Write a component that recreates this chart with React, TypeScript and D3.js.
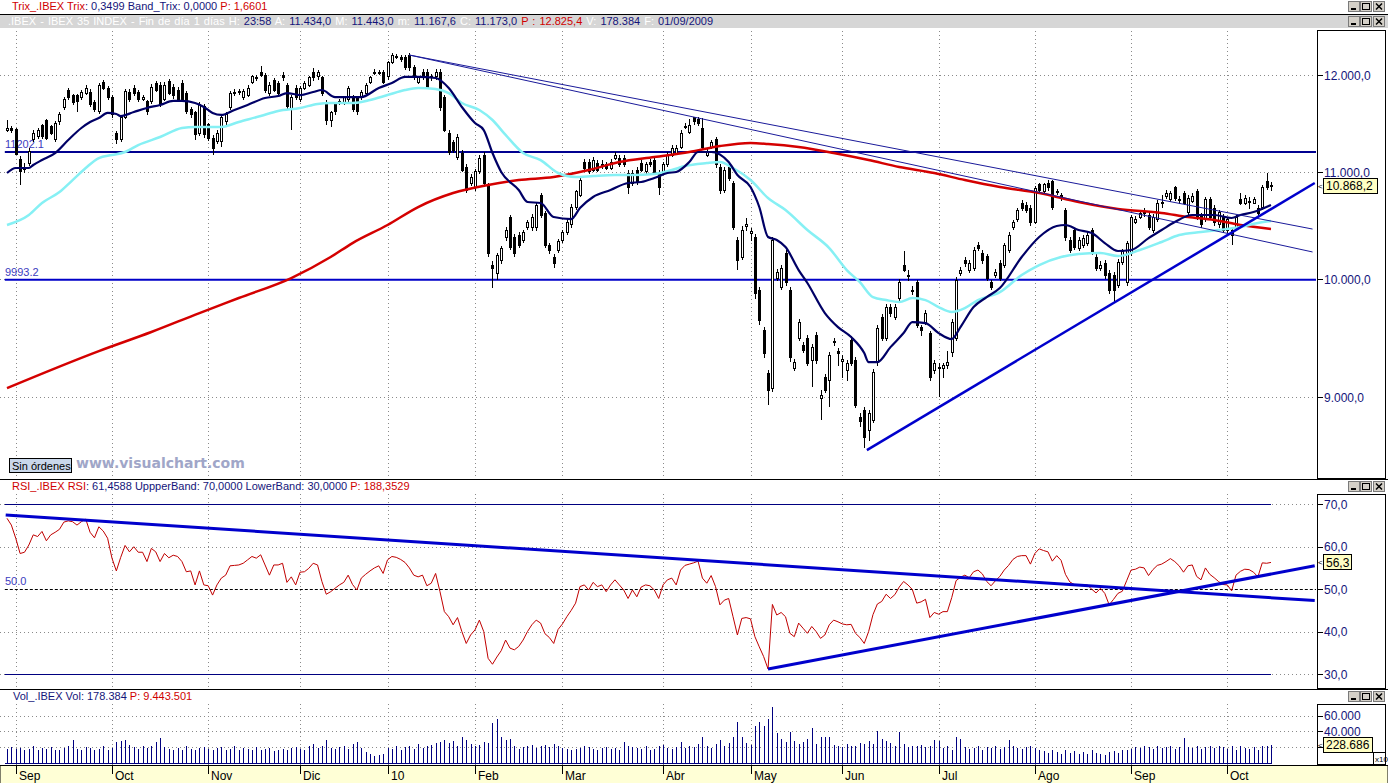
import * as d3 from 'd3';

// IBEX 35 daily bars, 28 Aug 2009 .. 14 Oct 2010
const opens = [
  11420, 11440, 11434, 11132, 11030, 11092, 11323, 11354, 11466, 11517,
  11456, 11323, 11507, 11652, 11840, 11777, 11777, 11766, 11808, 11819,
  11704, 11610, 11925, 11861, 11766, 11384, 11323, 11558, 11819, 11861,
  11819, 11745, 11714, 11714, 11914, 11893, 11745, 11935, 11872, 11840,
  11914, 11808, 11631, 11600, 11394, 11662, 11476, 11343, 11303, 11303,
  11507, 11652, 11800, 11815, 11766, 11787, 11925, 11970, 12032, 12000,
  11808, 11946, 11914, 12000, 11893, 11631, 11861, 11735, 11861, 11893,
  12032, 11979, 11968, 11700, 11527, 11683, 11710, 11704, 11735, 11766,
  11756, 11756, 11808, 11925, 12022, 12030, 12022, 11979, 12140, 12190,
  12190, 12194, 12216, 12086, 11925, 12032, 12032, 11970, 11979, 12032,
  11766, 11394, 11293, 11152, 11192, 11053, 10896, 10848, 11004, 11172,
  10877, 10126, 10054, 10171, 10382, 10561, 10382, 10401, 10355, 10476,
  10467, 10467, 10780, 10608, 10309, 10199, 10263, 10355, 10429, 10495,
  10665, 10780, 11102, 11102, 11023, 11092, 11080, 11073, 11043, 11142,
  11142, 11142, 10993, 10896, 11023, 11092, 11004, 11102, 11122, 10993,
  10993, 11073, 11172, 11192, 11252, 11450, 11404, 11548, 11537, 11445,
  11172, 11252, 11323, 11053, 10828, 11053, 10896, 10355, 10199, 10480,
  10420, 10383, 9902, 9555, 9194, 9072, 10008, 9929, 10235, 9902,
  9235, 9487, 9427, 9487, 9302, 9512, 8990, 9161, 9137, 9450,
  9370, 9290, 9219, 9470, 9302, 8840, 8895, 8738, 8816, 9285,
  9666, 9487, 9753, 9666, 9832, 10126, 10030, 9902, 9965, 9580,
  9623, 9529, 9219, 9240, 9235, 9260, 9369, 9487, 10054, 10171,
  10081, 10099, 10309, 10235, 10200, 9965, 10036, 10144, 10126, 10263,
  10476, 10542, 10703, 10684, 10655, 10523, 10877, 10809, 10896, 10906,
  10800, 10780, 10636, 10355, 10448, 10281, 10309, 10327, 10448, 10199,
  10099, 10144, 10054, 10036, 9947, 10153, 9973, 10235, 10523, 10570,
  10600, 10589, 10448, 10542, 10700, 10770, 10732, 10848, 10740, 10799,
  10617, 10722, 10818, 10589, 10542, 10732, 10655, 10495, 10570, 10448,
  10448, 10476, 10732, 10703, 10710, 10703, 10655, 10665, 10906, 10870,
];

const highs = [
  11527, 11470, 11443, 11160, 11090, 11240, 11420, 11450, 11490, 11540,
  11480, 11520, 11610, 11770, 11860, 11800, 11800, 11840, 11890, 11850,
  11730, 11910, 11950, 11880, 11790, 11410, 11580, 11850, 11850, 11890,
  11840, 11790, 11740, 11900, 11940, 11920, 11920, 11960, 11900, 11870,
  11950, 11830, 11660, 11620, 11710, 11690, 11500, 11370, 11420, 11570,
  11610, 11830, 11850, 11850, 11850, 11890, 12000, 12000, 12100, 12020,
  11920, 11970, 11940, 12030, 11910, 11790, 11890, 11880, 11940, 11990,
  12070, 12050, 11990, 11730, 11620, 11700, 11750, 11780, 11880, 11790,
  11780, 11840, 11910, 11990, 12060, 12050, 12050, 12150, 12240, 12230,
  12220, 12220, 12240, 12110, 11990, 12060, 12060, 12010, 12060, 12060,
  11790, 11420, 11320, 11380, 11220, 11080, 10980, 11030, 11170, 11200,
  10900, 10160, 10240, 10300, 10480, 10590, 10410, 10430, 10450, 10540,
  10600, 10710, 10800, 10630, 10330, 10230, 10360, 10450, 10550, 10690,
  10830, 10950, 11130, 11130, 11150, 11120, 11120, 11100, 11130, 11200,
  11170, 11170, 11020, 11020, 11050, 11120, 11100, 11130, 11150, 11020,
  11100, 11200, 11270, 11270, 11420, 11500, 11540, 11560, 11560, 11550,
  11230, 11320, 11350, 11080, 11050, 11080, 10920, 10380, 10490, 10560,
  10470, 10410, 9930, 9580, 9220, 10380, 10090, 10130, 10260, 9930,
  9310, 9650, 9450, 9510, 9440, 9540, 9056, 9190, 9370, 9490,
  9400, 9340, 9300, 9500, 9330, 8870, 8920, 8900, 9230, 9600,
  9690, 9780, 9780, 9780, 10000, 10250, 10080, 9940, 9990, 9600,
  9730, 9550, 9300, 9280, 9280, 9380, 9650, 10020, 10110, 10200,
  10170, 10290, 10340, 10260, 10230, 9990, 10090, 10170, 10330, 10430,
  10540, 10660, 10730, 10710, 10680, 10870, 10900, 10900, 10930, 10930,
  10840, 10800, 10660, 10380, 10470, 10380, 10400, 10430, 10470, 10230,
  10160, 10170, 10080, 10060, 10180, 10270, 10350, 10590, 10580, 10640,
  10660, 10610, 10600, 10730, 10780, 10830, 10820, 10870, 10770, 10820,
  10780, 10800, 10840, 10610, 10760, 10760, 10680, 10640, 10600, 10570,
  10470, 10590, 10800, 10780, 10760, 10760, 10680, 10880, 10990, 10910,
];

const lows = [
  11404, 11390, 11167.6, 10877, 10990, 11060, 11300, 11330, 11330, 11320,
  11370, 11300, 11480, 11630, 11740, 11680, 11610, 11740, 11790, 11660,
  11610, 11590, 11840, 11730, 11550, 11280, 11300, 11540, 11710, 11780,
  11710, 11720, 11580, 11690, 11820, 11660, 11720, 11790, 11750, 11720,
  11720, 11590, 11550, 11320, 11360, 11340, 11310, 11172, 11280, 11250,
  11480, 11630, 11780, 11790, 11740, 11770, 11900, 11940, 11980, 11810,
  11780, 11820, 11790, 11940, 11640, 11424, 11740, 11710, 11840, 11870,
  11940, 11950, 11780, 11480, 11460, 11580, 11680, 11680, 11710, 11610,
  11580, 11730, 11790, 11900, 12000, 12000, 11900, 11950, 12120, 12170,
  12140, 12050, 12040, 11950, 11900, 11950, 11850, 11940, 11950, 11620,
  11400, 11170, 11190, 11120, 11000, 10800, 10870, 10820, 10980, 10870,
  10200, 9920, 9990, 10140, 10350, 10260, 10200, 10280, 10330, 10450,
  10440, 10440, 10560, 10280, 10230, 10100, 10240, 10330, 10400, 10470,
  10640, 10760, 11020, 10980, 11000, 11000, 11030, 11020, 11020, 11120,
  11050, 11050, 10790, 10870, 10880, 11000, 10980, 11050, 10970, 10780,
  10970, 11050, 11150, 11170, 11230, 11430, 11380, 11480, 11470, 11230,
  11150, 11230, 11040, 10790, 10800, 10920, 10450, 10081, 10170, 10440,
  10350, 9820, 9600, 9320, 8935, 9040, 9980, 9900, 9940, 9290,
  9210, 9460, 9360, 9250, 9080, 9270, 8816, 9030, 8920, 9420,
  9250, 9150, 9130, 9250, 8910, 8760, 8600, 8650, 8790, 9250,
  9460, 9460, 9670, 9640, 9800, 10060, 9980, 9860, 9570, 9500,
  9600, 9130, 9190, 9000, 9150, 9230, 9330, 9460, 10030, 10110,
  10050, 10070, 10250, 10140, 9980, 9900, 10010, 9980, 10100, 10240,
  10450, 10520, 10630, 10610, 10490, 10500, 10800, 10780, 10820, 10640,
  10780, 10720, 10350, 10240, 10260, 10250, 10280, 10300, 10220, 10070,
  10070, 10000, 9870, 9790, 9920, 10130, 9940, 10210, 10500, 10550,
  10570, 10450, 10420, 10520, 10660, 10740, 10710, 10720, 10690, 10680,
  10590, 10700, 10540, 10470, 10520, 10540, 10490, 10470, 10420, 10420,
  10309, 10450, 10680, 10680, 10650, 10690, 10580, 10640, 10830, 10820,
];

const closes = [
  11440, 11420, 11173, 11004, 11050, 11212, 11394, 11424, 11354, 11343,
  11394, 11496, 11589, 11745, 11766, 11704, 11714, 11819, 11861, 11683,
  11631, 11893, 11861, 11756, 11579, 11323, 11558, 11829, 11735, 11808,
  11735, 11756, 11610, 11872, 11840, 11683, 11893, 11808, 11777, 11745,
  11745, 11610, 11579, 11374, 11683, 11374, 11343, 11242, 11394, 11548,
  11589, 11808, 11812, 11825, 11829, 11861, 11979, 11975, 12000, 11840,
  11893, 11840, 11808, 11968, 11662, 11766, 11766, 11861, 11914, 11968,
  11968, 12022, 11808, 11527, 11600, 11610, 11720, 11756, 11861, 11631,
  11610, 11819, 11893, 11968, 12032, 12022, 11925, 12130, 12216, 12195,
  12170, 12076, 12076, 11979, 11968, 11979, 11872, 11985, 12032, 11652,
  11424, 11202, 11222, 11353, 11023, 10828, 10954, 11004, 11142, 10896,
  10235, 10099, 10217, 10281, 10448, 10290, 10235, 10309, 10429, 10514,
  10570, 10684, 10589, 10309, 10263, 10144, 10337, 10429, 10523, 10665,
  10809, 10925, 11043, 11004, 11122, 11023, 11060, 11043, 11102, 11172,
  11073, 11073, 10857, 10993, 10906, 11023, 11073, 11073, 10993, 10857,
  11073, 11172, 11242, 11242, 11394, 11460, 11466, 11507, 11496, 11252,
  11202, 11293, 11073, 10828, 11023, 10945, 10476, 10171, 10448, 10495,
  10430, 9875, 9640, 9360, 9056, 10355, 10063, 10099, 9973, 9327,
  9285, 9623, 9385, 9277, 9410, 9302, 9015, 9056, 9344, 9460,
  9360, 9310, 9277, 9277, 8935, 8808, 8683, 8872, 9203, 9572,
  9487, 9753, 9701, 9753, 9973, 10081, 10020, 9890, 9597, 9555,
  9701, 9161, 9277, 9235, 9260, 9285, 9623, 9991, 10081, 10144,
  10144, 10263, 10281, 10171, 10009, 9929, 10063, 10009, 10309, 10401,
  10514, 10636, 10655, 10636, 10514, 10847, 10828, 10877, 10848, 10665,
  10815, 10751, 10382, 10263, 10290, 10355, 10373, 10401, 10245, 10099,
  10126, 10036, 9902, 9902, 10153, 10245, 10327, 10561, 10551, 10608,
  10610, 10476, 10570, 10703, 10710, 10790, 10790, 10751, 10730, 10703,
  10751, 10770, 10570, 10495, 10732, 10570, 10514, 10617, 10448, 10542,
  10401, 10561, 10703, 10751, 10720, 10732, 10608, 10857, 10857, 10868.2,
];

// volume, thousands (axis shows x10)
const volumes = [
  18, 20, 17.8, 19, 16, 18, 21, 17, 19, 18, 20, 17, 16, 19, 22, 29, 18, 17, 20, 19,
  16, 18, 21, 17, 19, 27, 28, 29, 23, 20, 18, 22, 19, 21, 27, 32, 20, 18, 17, 19,
  16, 21, 18, 17, 19, 20, 18, 17, 19, 20, 16, 18, 21, 17, 19, 18, 16, 20, 17, 18,
  19, 15, 17, 18, 16, 19, 20, 18, 17, 22, 24, 19, 21, 29, 19, 18, 20, 22, 18, 24,
  27, 19, 14, 12, 9, 10, 11, 19, 18, 21, 17, 20, 22, 18, 24, 19, 21, 23, 25, 27,
  29, 26, 28, 22, 33, 29, 24, 21, 23, 27, 25, 51, 56, 33, 29, 31, 22, 18, 20, 22,
  23, 19, 22, 23, 20, 24, 21, 19, 18, 17, 18, 19, 21, 20, 18, 17, 19, 20, 18, 19,
  17, 27, 22, 20, 19, 18, 22, 17, 18, 21, 23, 19, 18, 20, 27, 19, 22, 20, 24, 33,
  21, 19, 24, 29, 22, 26, 33, 52, 33, 26, 23, 47, 52, 47, 56, 71, 38, 30, 27, 39,
  28, 24, 27, 30, 45, 24, 33, 33, 33, 23, 22, 20, 24, 21, 22, 26, 24, 28, 24, 41,
  30, 28, 25, 22, 39, 24, 20, 22, 21, 23, 20, 22, 29, 28, 19, 22, 17, 33, 30, 20,
  18, 19, 21, 17, 20, 19, 22, 18, 20, 29, 21, 19, 18, 20, 22, 19, 16, 15, 13, 17,
  14, 12, 16, 13, 15, 11, 14, 12, 16, 13, 12, 10, 14, 15, 13, 16, 17, 18, 20, 19,
  21, 20, 18, 22, 19, 20, 21, 18, 20, 32, 20, 19, 21, 18, 20, 22, 19, 21, 20, 18,
  22, 17, 21, 19, 18, 20, 17, 21, 22, 22.9,
];

const rsi = [
  66.7, 65.1, 62.0, 58.4, 58.7, 60.4, 62.8, 62.4, 63.6, 61.4,
  62.8, 63.4, 64.1, 65.8, 66.1, 65.9, 65.1, 65.9, 66.5, 63.4,
  62.1, 64.7, 63.7, 62.0, 57.3, 54.3, 57.5, 60.3, 58.8, 60.0,
  58.7, 58.7, 56.5, 59.6, 58.8, 56.5, 58.4, 57.4, 58.0, 57.7,
  56.5, 54.1, 54.3, 51.0, 54.3, 51.0, 50.8, 48.6, 51.0, 52.6,
  53.3, 55.5, 55.6, 55.7, 56.1, 56.9, 57.7, 57.3, 58.1, 55.7,
  53.3, 55.7, 55.7, 56.1, 51.6, 52.9, 51.0, 54.0, 54.1, 54.9,
  56.1, 55.7, 51.8, 48.8, 49.4, 50.2, 51.0, 51.6, 53.3, 51.1,
  49.8, 52.6, 53.5, 54.3, 55.0, 55.5, 53.7, 56.9, 57.7, 57.5,
  57.0, 56.3, 55.0, 53.3, 52.9, 53.3, 50.8, 51.4, 53.7, 49.4,
  44.7, 43.5, 41.6, 43.3, 40.0, 37.2, 39.2, 40.4, 42.7, 40.0,
  33.7, 32.3, 34.0, 35.5, 38.0, 36.1, 35.7, 36.5, 38.0, 40.0,
  41.6, 42.7, 42.0, 39.5, 38.6, 37.2, 40.5, 41.8, 43.5, 45.0,
  46.7, 50.6, 51.0, 49.8, 51.6, 50.6, 51.0, 49.4, 51.0, 52.2,
  51.0, 49.8, 47.8, 49.8, 48.2, 50.5, 51.0, 50.8, 49.8, 47.8,
  51.0, 52.2, 52.6, 51.0, 54.5, 55.6, 55.9, 56.2, 56.6, 52.6,
  51.4, 53.2, 50.6, 46.3, 47.4, 47.8, 43.5, 39.2, 43.1, 43.3,
  43.0, 38.8, 36.4, 34.1, 31.2, 46.4, 43.9, 44.5, 43.5, 39.6,
  38.8, 42.0, 40.8, 39.6, 41.2, 40.0, 38.4, 39.2, 41.6, 42.7,
  42.3, 41.8, 41.6, 41.7, 39.6, 38.6, 37.2, 40.0, 44.0, 46.5,
  47.1, 48.8, 47.8, 48.7, 50.5, 51.8, 51.0, 49.9, 46.7, 47.0,
  47.6, 43.3, 44.5, 44.1, 44.7, 44.7, 48.0, 52.0, 52.8, 53.3,
  52.7, 54.1, 54.5, 53.6, 51.8, 50.8, 52.0, 53.0, 54.5, 55.6,
  57.0, 57.7, 57.9, 57.9, 55.9, 58.4, 59.5, 59.1, 58.8, 56.6,
  57.9, 56.8, 53.5, 51.7, 51.1, 51.0, 51.1, 51.0, 50.0, 49.1,
  50.2, 49.0, 46.3, 47.6, 49.0, 49.5, 52.0, 54.5, 54.7, 55.2,
  55.0, 53.2, 54.6, 55.6, 55.9, 56.5, 57.2, 56.5, 55.5, 54.0,
  55.5, 55.7, 53.0, 52.2, 55.0, 53.5, 52.7, 51.8, 51.1, 51.0,
  49.6, 53.3, 54.2, 54.7, 54.6, 54.0, 52.9, 56.2, 56.1, 56.3,
];

// moving averages, read at the listed bar numbers
const fastBars = [0, 2, 5, 6, 8, 11, 14, 17, 19, 21, 23, 25, 26, 29, 32, 35, 38, 40, 43, 45, 47, 49, 52, 55, 59, 62, 64, 67, 70, 72, 75, 78, 81, 85, 88, 91, 94, 98, 101, 104, 107, 109, 111, 113, 117, 119, 122, 125, 129, 131, 134, 138, 142, 145, 148, 151, 153, 156, 158, 161, 165, 167, 170, 172, 174, 176, 178, 181, 183, 187, 190, 193, 196, 197, 199, 202, 205, 207, 210, 213, 216, 218, 221, 224, 227, 232, 236, 240, 242, 245, 248, 251, 254, 257, 261, 264, 267, 271, 276, 280, 282, 285, 289];
const fastMa = [10994, 11043, 11043, 11073, 11122, 11192, 11323, 11445, 11507, 11548, 11600, 11589, 11568, 11610, 11652, 11683, 11725, 11725, 11704, 11662, 11600, 11579, 11631, 11683, 11756, 11777, 11808, 11787, 11819, 11840, 11766, 11766, 11766, 11861, 11914, 11979, 11979, 11968, 11861, 11662, 11496, 11424, 11192, 11004, 10828, 10713, 10703, 10570, 10551, 10655, 10761, 10828, 10896, 10906, 10945, 10994, 11004, 11102, 11202, 11202, 11102, 10974, 10857, 10665, 10383, 10355, 10290, 10081, 9965, 9701, 9580, 9495, 9360, 9285, 9285, 9410, 9529, 9623, 9614, 9529, 9478, 9580, 9753, 9840, 9920, 10199, 10383, 10486, 10495, 10448, 10420, 10327, 10254, 10263, 10373, 10448, 10523, 10589, 10589, 10561, 10589, 10617, 10684];

const midBars = [0, 5, 8, 12, 15, 18, 21, 24, 27, 30, 35, 40, 43, 49, 53, 58, 62, 67, 71, 74, 79, 83, 87, 91, 94, 98, 101, 104, 108, 111, 114, 118, 122, 126, 130, 134, 139, 143, 148, 152, 155, 160, 163, 166, 170, 174, 178, 183, 188, 192, 195, 198, 201, 204, 207, 210, 213, 216, 219, 222, 227, 232, 236, 241, 245, 250, 254, 259, 264, 268, 273, 277, 282, 286, 289];
const midMa = [10495, 10589, 10703, 10809, 10925, 11043, 11142, 11172, 11202, 11272, 11353, 11445, 11456, 11456, 11507, 11568, 11621, 11652, 11694, 11704, 11704, 11735, 11787, 11840, 11861, 11850, 11808, 11704, 11631, 11527, 11374, 11192, 11122, 10994, 10955, 10965, 10974, 10974, 10984, 11023, 11063, 11092, 11102, 11043, 10925, 10751, 10636, 10448, 10281, 10081, 9973, 9840, 9814, 9797, 9832, 9814, 9753, 9710, 9744, 9814, 9884, 10036, 10126, 10199, 10226, 10235, 10208, 10263, 10337, 10401, 10429, 10448, 10476, 10514, 10532];

const slowBars = [0, 21, 33, 44, 53, 65, 74, 79, 87, 94, 102, 110, 117, 125, 133, 140, 148, 156, 163, 170, 174, 181, 189, 197, 204, 212, 219, 227, 236, 245, 254, 264, 270, 276, 282, 289];
const slowMa = [9072, 9377, 9538, 9701, 9832, 10009, 10199, 10327, 10495, 10665, 10799, 10877, 10925, 10955, 11023, 11102, 11152, 11202, 11262, 11293, 11283, 11252, 11192, 11122, 11053, 10994, 10925, 10857, 10799, 10713, 10646, 10608, 10570, 10542, 10495, 10458];

// drawn lines: [bar, value] end points
const levels = [11202.1, 9993.2];
const thinTrends = [
  [[92, 12216], [298.5, 10457]],
  [[92, 12216], [298.5, 10245]],
];
const supportTrend = [[196.6, 8583], [299, 10896]];
const rsiTrends = [
  [[-0.3, 67.5], [299, 47.3]],
  [[174, 31.2], [299, 55.5]],
];

const monthBars = [2, 24, 46, 67, 87, 107, 127, 150, 170, 191, 213, 235, 257, 279];
const monthLabels = ['Sep', 'Oct', 'Nov', 'Dic', '10', 'Feb', 'Mar', 'Abr', 'May', 'Jun', 'Jul', 'Ago', 'Sep', 'Oct'];

const priceTicks = [9000, 10000, 11000, 12000];
const rsiTicks = [30, 40, 50, 60, 70];
const volTicks = [20, 40, 60];
const volLabelTicks = [40, 60];

const es = d3.formatLocale({ decimal: ',', thousands: '.', grouping: [3], currency: ['', ''] });
const fmt1 = es.format(',.1f');
const fmt0 = es.format(',.0f');

const FONT = "'Liberation Sans', Arial, sans-serif";
const NAVY = '#14147a';
const RED = '#d00000';

const WinButtons = ({ y }: { y: number }) => (
  <g>
    {[1348, 1360, 1373].map((bx, k) => (
      <g key={k}>
        <rect x={bx + 0.5} y={y + 0.5} width={11} height={10} fill="#d4d0c8" stroke="#7a7a7a" />
        {k === 0 && <line x1={bx + 3} x2={bx + 8} y1={y + 8} y2={y + 8} stroke="#000" strokeWidth={2} />}
        {k === 1 && <rect x={bx + 2.5} y={y + 2.5} width={7} height={6} fill="none" stroke="#000" />}
        {k === 2 && (
          <path d={`M${bx + 3},${y + 2.5}L${bx + 9},${y + 8.5}M${bx + 9},${y + 2.5}L${bx + 3},${y + 8.5}`} stroke="#000" strokeWidth={1.5} />
        )}
      </g>
    ))}
  </g>
);

export default function App() {
  const x = d3.scaleLinear().domain([0, 289]).range([7, 1271]);
  const yP = d3.scaleLog().domain([9000, 12000]).range([397, 75]);
  const yR = d3.scaleLinear().domain([30, 70]).range([674, 504.3]);
  const yV = d3.scaleLinear().domain([0, 60]).range([763, 715.7]);

  const maLine = (bars: number[]) =>
    d3.line<number>()
      .x((_, k) => x(bars[k]))
      .y((d) => yP(d))
      .curve(d3.curveMonotoneX);

  const segP = d3.line<number[]>().x((d) => x(d[0])).y((d) => yP(d[1]));
  const segR = d3.line<number[]>().x((d) => x(d[0])).y((d) => yR(d[1]));
  const rsiPath = d3.line<number>().x((_, i) => x(i)).y((d) => yR(d))(rsi) || '';

  const plotRight = 1316;
  const dotted = { stroke: '#8a8a8a', strokeDasharray: '1,3', strokeWidth: 1 };

  const lastClose = closes[closes.length - 1];
  const lastRsi = rsi[rsi.length - 1];
  const lastVol = volumes[volumes.length - 1];

  return (
    <div style={{ position: 'absolute', left: 0, top: 0 }}>
      <svg width={1388} height={783} style={{ display: 'block', background: '#fff' }} fontFamily={FONT}>
        {/* ---------- header strips ---------- */}
        <text x={12} y={10} fontSize={11}>
          <tspan fill={RED}>Trix_.IBEX Trix</tspan>
          <tspan fill={NAVY}>: 0,3499  Band_Trix: 0,0000 </tspan>
          <tspan fill={RED}> P: 1,6601</tspan>
        </text>
        <WinButtons y={1} />
        <line x1={0} x2={1388} y1={14.5} y2={14.5} stroke="#000" />
        <rect x={0} y={15} width={1388} height={13} fill="#d6d6d6" />
        <text x={8} y={25} fontSize={11} wordSpacing={1}>
          <tspan fill="#fff">.IBEX - IBEX 35 INDEX - Fin de día 1 días H: </tspan>
          <tspan fill={NAVY}>23:58 </tspan>
          <tspan fill="#fff"> A: </tspan>
          <tspan fill={NAVY}>{fmt1(opens[2])} </tspan>
          <tspan fill="#fff"> M: </tspan>
          <tspan fill={NAVY}>{fmt1(highs[2])} </tspan>
          <tspan fill="#fff"> m: </tspan>
          <tspan fill={NAVY}>{fmt1(lows[2])} </tspan>
          <tspan fill="#fff"> C: </tspan>
          <tspan fill={NAVY}>{fmt1(closes[2])} </tspan>
          <tspan fill={RED}> P : 12.825,4 </tspan>
          <tspan fill="#fff"> V: </tspan>
          <tspan fill={NAVY}>178.384 </tspan>
          <tspan fill="#fff"> F: </tspan>
          <tspan fill={NAVY}>01/09/2009</tspan>
        </text>
        <WinButtons y={16} />

        {/* ---------- price panel ---------- */}
        <g>
          {priceTicks.map((t) => (
            <line key={t} x1={0} x2={plotRight} y1={Math.round(yP(t)) + 0.5} y2={Math.round(yP(t)) + 0.5} {...dotted} />
          ))}
          {monthBars.map((b) => (
            <line key={b} x1={Math.round(x(b)) + 0.5} x2={Math.round(x(b)) + 0.5} y1={31} y2={478} {...dotted} />
          ))}

          {/* horizontal levels */}
          {levels.map((v, k) => (
            <g key={v}>
              <line x1={x(-0.5)} x2={plotRight} y1={yP(v)} y2={yP(v)} stroke={k === 0 ? '#000090' : '#0000c8'} strokeWidth={2} />
              <text x={5} y={yP(v) - 4} fontSize={11} fill="#3c3cc0">{String(v)}</text>
            </g>
          ))}

          {/* candles */}
          <g shapeRendering="crispEdges">
            {closes.map((c, i) => {
              const o = opens[i];
              const cx = Math.round(x(i));
              const top = yP(Math.max(o, c));
              const bot = yP(Math.min(o, c));
              return (
                <g key={i}>
                  <line x1={cx + 0.5} x2={cx + 0.5} y1={yP(highs[i])} y2={yP(lows[i])} stroke="#000" />
                  <rect x={cx - 0.5} y={top} width={2} height={Math.max(1, bot - top)} fill={c >= o ? '#fff' : '#000'} stroke="#000" />
                </g>
              );
            })}
          </g>

          {/* moving averages */}
          <path d={maLine(slowBars)(slowMa) || ''} fill="none" stroke="#d40000" strokeWidth={2.5} />
          <path d={maLine(midBars)(midMa) || ''} fill="none" stroke="#86f0f4" strokeWidth={2.5} />
          <path d={maLine(fastBars)(fastMa) || ''} fill="none" stroke="#000066" strokeWidth={2.2} />

          {/* trendlines */}
          {thinTrends.map((seg, k) => (
            <path key={k} d={segP(seg) || ''} fill="none" stroke="#1a1a9a" strokeWidth={1} />
          ))}
          <path d={segP(supportTrend) || ''} fill="none" stroke="#0000cc" strokeWidth={2.5} />

          {/* order button + watermark */}
          <rect x={9.5} y={458.5} width={62} height={14} fill="#c9d7ea" stroke="#000" />
          <text x={12} y={469.5} fontSize={11} fill="#000">Sin órdenes</text>
          <text x={76} y={468} fontSize={14} fontWeight="bold" fill="#a0a6c8" fontFamily="'DejaVu Sans', Verdana, sans-serif">www.visualchart.com</text>

          {/* axis */}
          <rect x={1317.5} y={30.5} width={68} height={448} fill="#fff" stroke="#000" />
          {priceTicks.map((t) => (
            <g key={t}>
              <line x1={1317} x2={1323} y1={Math.round(yP(t)) + 0.5} y2={Math.round(yP(t)) + 0.5} stroke="#000" />
              <text x={1324} y={yP(t) + 4.5} fontSize={12} fill={NAVY}>{fmt1(t)}</text>
            </g>
          ))}
          <text x={1318} y={yP(lastClose) + 3} fontSize={8} fill="#000">&lt;</text>
          <rect x={1323.5} y={Math.round(yP(lastClose)) - 7.5} width={54} height={15} fill="#ffffc4" stroke="#000" />
          <text x={1326} y={yP(lastClose) + 4.5} fontSize={12} fill="#000">{fmt1(lastClose)}</text>
        </g>

        <line x1={0} x2={1388} y1={479.5} y2={479.5} stroke="#000" />

        {/* ---------- RSI panel ---------- */}
        <text x={12} y={490} fontSize={11}>
          <tspan fill={RED}>RSI_.IBEX RSI</tspan>
          <tspan fill={NAVY}>: 61,4588  UppperBand: 70,0000  LowerBand: 30,0000 </tspan>
          <tspan fill={RED}> P: 188,3529</tspan>
        </text>
        <WinButtons y={481} />
        <g>
          {rsiTicks.filter((t) => t !== 50).map((t) => (
            <line key={t} x1={0} x2={plotRight} y1={Math.round(yR(t)) + 0.5} y2={Math.round(yR(t)) + 0.5} {...dotted} />
          ))}
          {monthBars.map((b) => (
            <line key={b} x1={Math.round(x(b)) + 0.5} x2={Math.round(x(b)) + 0.5} y1={494} y2={689} {...dotted} />
          ))}
          {[70, 30].map((t) => (
            <line key={t} x1={x(-0.5)} x2={x(289)} y1={Math.round(yR(t)) + 0.5} y2={Math.round(yR(t)) + 0.5} stroke="#000080" />
          ))}
          <line x1={x(-0.5)} x2={plotRight} y1={Math.round(yR(50)) + 0.5} y2={Math.round(yR(50)) + 0.5} stroke="#000" strokeDasharray="3,2" />
          <text x={5} y={yR(50) - 4} fontSize={11} fill="#3c3cc0">50.0</text>
          <path d={rsiPath} fill="none" stroke="#c00000" strokeWidth={1} />
          {rsiTrends.map((seg, k) => (
            <path key={k} d={segR(seg) || ''} fill="none" stroke="#0000cc" strokeWidth={3} />
          ))}

          <rect x={1317.5} y={494.5} width={68} height={194} fill="#fff" stroke="#000" />
          {rsiTicks.map((t) => (
            <g key={t}>
              <line x1={1317} x2={1323} y1={Math.round(yR(t)) + 0.5} y2={Math.round(yR(t)) + 0.5} stroke="#000" />
              <text x={1324} y={yR(t) + 4.5} fontSize={12} fill={NAVY}>{fmt1(t)}</text>
            </g>
          ))}
          <text x={1318} y={yR(lastRsi) + 3} fontSize={8} fill="#000">&lt;</text>
          <rect x={1323.5} y={Math.round(yR(lastRsi)) - 7.5} width={28} height={15} fill="#ffffc4" stroke="#000" />
          <text x={1326} y={yR(lastRsi) + 4.5} fontSize={12} fill="#000">{fmt1(lastRsi)}</text>
        </g>

        <line x1={0} x2={1388} y1={689.5} y2={689.5} stroke="#000" />

        {/* ---------- volume panel ---------- */}
        <text x={13} y={700} fontSize={11}>
          <tspan fill={NAVY}>Vol_.IBEX Vol: 178.384 </tspan>
          <tspan fill={RED}> P: 9.443.501</tspan>
        </text>
        <WinButtons y={691} />
        <g>
          {volTicks.map((t) => (
            <line key={t} x1={0} x2={plotRight} y1={Math.round(yV(t)) + 0.5} y2={Math.round(yV(t)) + 0.5} {...dotted} />
          ))}
          {monthBars.map((b) => (
            <line key={b} x1={Math.round(x(b)) + 0.5} x2={Math.round(x(b)) + 0.5} y1={704} y2={765} {...dotted} />
          ))}
          <g shapeRendering="crispEdges">
            {volumes.map((v, i) => (
              <line key={i} x1={Math.round(x(i)) + 0.5} x2={Math.round(x(i)) + 0.5} y1={yV(0)} y2={yV(v)} stroke="#000080" />
            ))}
          </g>
          <line x1={5} x2={x(289) + 1} y1={763.5} y2={763.5} stroke="#000080" />

          <rect x={1317.5} y={704.5} width={68} height={60} fill="#fff" stroke="#000" />
          {volTicks.map((t) => (
            <line key={t} x1={1317} x2={1323} y1={Math.round(yV(t)) + 0.5} y2={Math.round(yV(t)) + 0.5} stroke="#000" />
          ))}
          {volLabelTicks.map((t) => (
            <text key={t} x={1324} y={yV(t) + 4.5} fontSize={12} fill={NAVY}>{fmt0(t * 1000)}</text>
          ))}
          <text x={1318} y={yV(lastVol) + 3} fontSize={8} fill="#000">&lt;</text>
          <rect x={1323.5} y={Math.round(yV(lastVol)) - 7.5} width={49} height={15} fill="#ffffc4" stroke="#000" />
          <text x={1326} y={yV(lastVol) + 4.5} fontSize={12} fill="#000">228.686</text>
          <rect x={1373.5} y={752.5} width={12} height={12} fill="#fff" stroke="#000" />
          <text x={1375} y={762} fontSize={8} fill="#000">x10</text>
        </g>

        {/* ---------- time axis ---------- */}
        <rect x={0} y={765.5} width={1388} height={18} fill="#ffffd6" stroke="#000" />
        {monthBars.map((b, k) => (
          <g key={b}>
            <line x1={Math.round(x(b)) + 0.5} x2={Math.round(x(b)) + 0.5} y1={766} y2={774} stroke="#000" />
            <text x={Math.round(x(b)) + 3} y={780} fontSize={12} fill="#000">{monthLabels[k]}</text>
          </g>
        ))}
      </svg>
    </div>
  );
}
